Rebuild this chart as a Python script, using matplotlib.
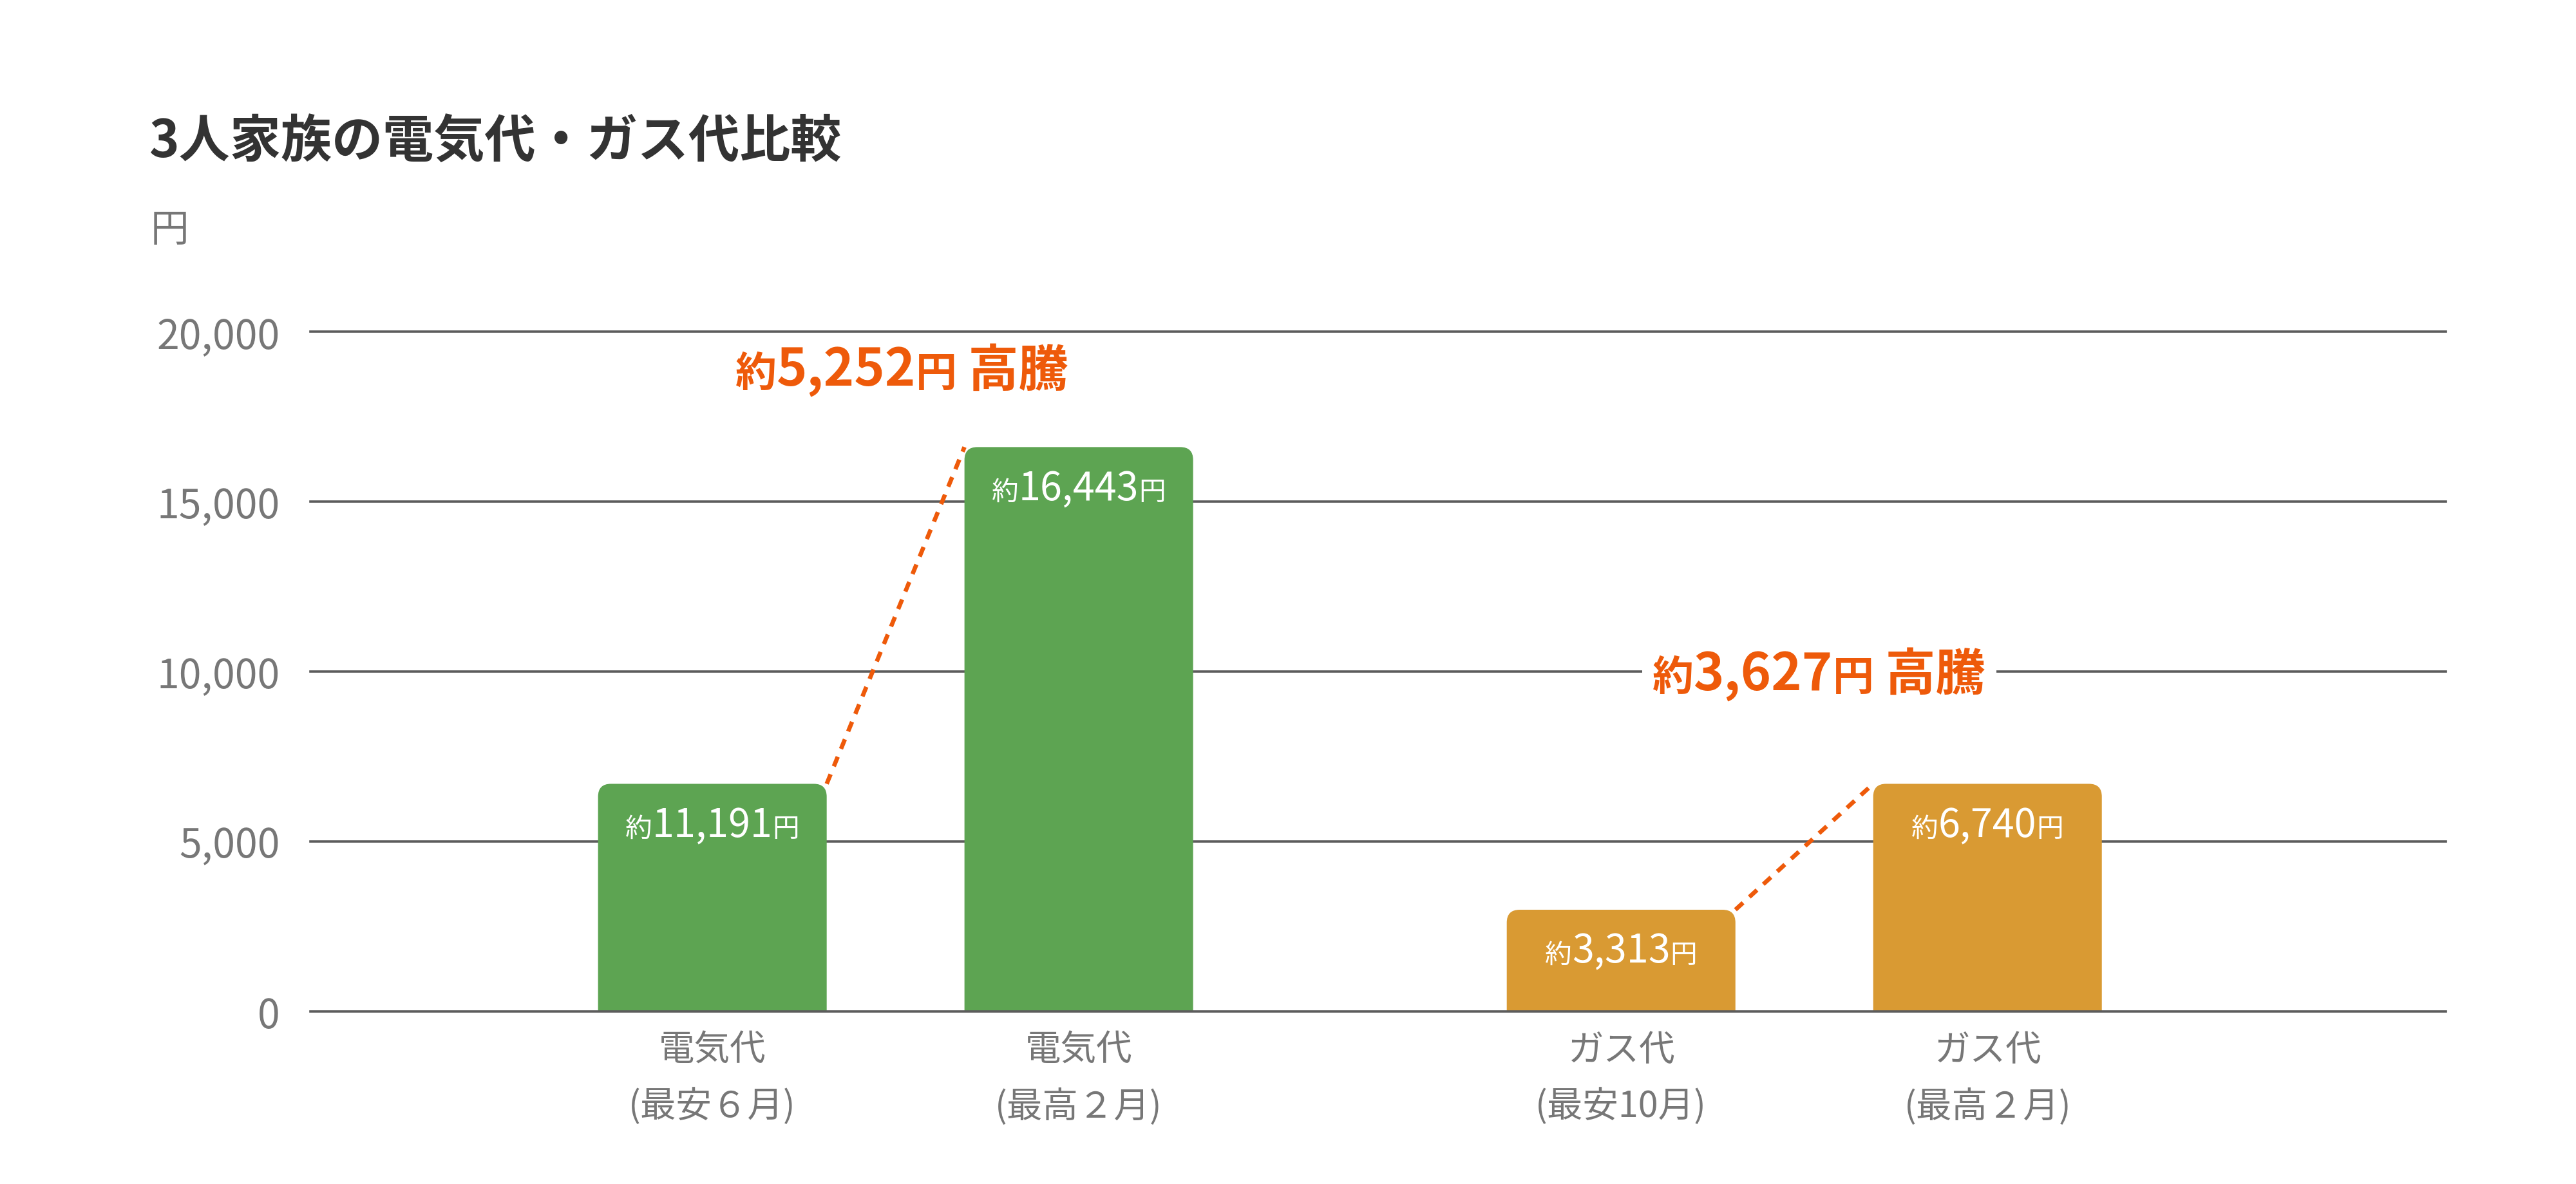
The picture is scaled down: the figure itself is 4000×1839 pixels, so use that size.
import matplotlib
matplotlib.use("Agg")
import matplotlib.pyplot as plt
from matplotlib.patches import FancyBboxPatch
from matplotlib.offsetbox import TextArea, HPacker, AnnotationBbox
from matplotlib.ticker import FuncFormatter

plt.rcParams['font.family'] = ['Noto Sans CJK JP', 'DejaVu Sans']

# ---- data ----
categories = ["電気代\n(最安６月)", "電気代\n(最高２月)", "ガス代\n(最安10月)", "ガス代\n(最高２月)"]
bar_heights = [6690, 16600, 2985, 6690]          # drawn heights as they appear
label_values = [11191, 16443, 3313, 6740]        # printed values on the bars
rise_values = [5252, 3627]                       # "約○円 高騰" per group
bar_colors = ["#5da452", "#5da452", "#d99a33", "#d99a33"]
yticks = [0, 5000, 10000, 15000, 20000]

ORANGE = "#ee5a0a"
GRID = "#5c5c5c"
GRAY = "#777777"

fig = plt.figure(figsize=(20, 9.2), dpi=200)
ax = fig.add_axes([0.1205, 0.1459, 0.829, 0.5737])

# two groups of two bars with a wider gap between the groups
gap = 1.48
x = [0, 1, 1 + gap, 2 + gap]
width = 0.624

bars = ax.bar(x, bar_heights, width=width, color=bar_colors, zorder=2)

# rounded top corners: replace each rectangle with a rounded box whose bottom
# is pushed below the axis and clipped away
px_x = 1 / 569.0
px_y = 5000 / 264.4
aspect = px_y / px_x
radius = 20 * px_x
for r in bars:
    x0, w, h = r.get_x(), r.get_width(), r.get_height()
    r.set_visible(False)
    extra = 60 * px_y
    p = FancyBboxPatch((x0, -extra), w, h + extra,
                       boxstyle=f"round,pad=0,rounding_size={radius}",
                       mutation_aspect=aspect, fc=r.get_facecolor(),
                       ec="none", zorder=2, clip_on=True)
    ax.add_patch(p)

ax.set_xlim(-1.097, 4.731)
ax.set_ylim(0, 20000)

# horizontal grid lines
for t in yticks:
    ax.axhline(t, color=GRID, lw=1.3, zorder=3 if t == 0 else 0, clip_on=False)

for s in ax.spines.values():
    s.set_visible(False)

ax.set_yticks(yticks)
ax.yaxis.set_major_formatter(FuncFormatter(lambda v, p: f"{int(v):,}"))
ax.tick_params(axis='y', length=0, pad=17, labelsize=22.5, labelcolor=GRAY)
ax.set_xticks(x)
ax.set_xticklabels(categories, linespacing=1.65)
ax.tick_params(axis='x', length=0, pad=11.5, labelsize=20, labelcolor=GRAY)


def piece_box(parts, color, weight="normal"):
    areas = [TextArea(t, textprops=dict(color=color, fontsize=s, fontweight=weight))
             for t, s in parts]
    return HPacker(children=areas, align="baseline", pad=0, sep=0)


# value labels inside the bars
for xi, h, v in zip(x, bar_heights, label_values):
    box = piece_box([("約", 15), (f"{v:,}", 22), ("円", 15)], "white")
    ab = AnnotationBbox(box, (xi, h), xybox=(0, -12), xycoords='data',
                        boxcoords='offset points', box_alignment=(0.5, 1),
                        frameon=False, pad=0, zorder=4)
    ax.add_artist(ab)

# dashed connectors between low and high bar of each group
for g in range(2):
    i, j = 2 * g, 2 * g + 1
    ax.plot([x[i] + width / 2, x[j] - width / 2], [bar_heights[i], bar_heights[j]],
            color=ORANGE, lw=2.4, dashes=(2.4, 2.0), zorder=3, solid_capstyle='butt')

# rise annotations
rise_y = [18850, 9900]
rise_dx = [3.6, 8.3]
for g, val in enumerate(rise_values):
    cx = (x[2 * g] + x[2 * g + 1]) / 2
    box = piece_box([("約", 23), (f"{val:,}", 29), ("円", 23), (" 高騰", 28)],
                    ORANGE, weight="bold")
    ab = AnnotationBbox(box, (cx, rise_y[g]), xybox=(rise_dx[g], 0), xycoords='data',
                        boxcoords='offset points', box_alignment=(0.5, 0.5),
                        frameon=(g == 1), pad=0.25, fontsize=20,
                        bboxprops=dict(fc="white", ec="none", boxstyle="square"),
                        zorder=5)
    ax.add_artist(ab)

fig.text(232 / 4000, 1 - 220 / 1840, "3人家族の電気代・ガス代比較", fontsize=28.5,
         fontweight="bold", color="#333333", ha="left", va="center")
fig.text(234 / 4000, 1 - 358 / 1840, "円", fontsize=21.5, color=GRAY,
         ha="left", va="center")

fig.savefig("out.png", dpi=200, facecolor="white")
